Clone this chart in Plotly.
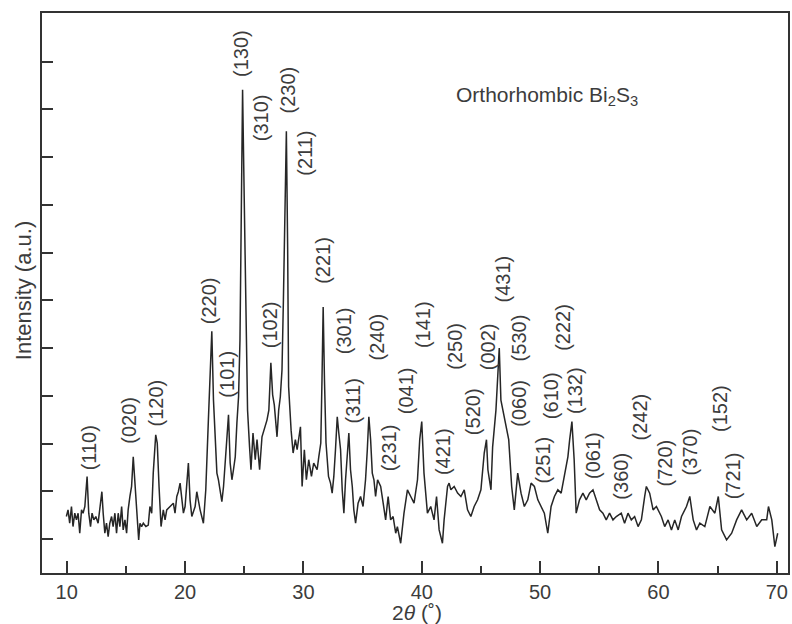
import plotly.graph_objects as go

two_theta = [
    9.97, 10.11, 10.25, 10.40, 10.53, 10.68, 10.82, 10.96, 11.10, 11.25, 11.38, 11.53, 11.72, 11.86,
    12.01, 12.14, 12.29, 12.46, 12.65, 12.80, 12.97, 13.08, 13.22, 13.36, 13.50, 13.64, 13.79, 13.92,
    14.07, 14.21, 14.35, 14.49, 14.64, 14.77, 14.92, 15.06, 15.19, 15.34, 15.48, 15.62, 15.76, 15.91,
    16.08, 16.19, 16.33, 16.47, 16.69, 16.89, 17.03, 17.18, 17.31, 17.52, 17.65, 17.80, 17.97, 18.16,
    18.31, 18.45, 18.73, 19.01, 19.15, 19.30, 19.43, 19.58, 19.86, 20.00, 20.28, 20.42, 20.57, 20.85,
    20.99, 21.27, 21.55, 21.75, 21.97, 22.12, 22.26, 22.40, 22.54, 22.69, 22.82, 22.97, 23.11, 23.25,
    23.39, 23.53, 23.67, 23.81, 23.96, 24.09, 24.24, 24.38, 24.52, 24.64, 24.75, 24.86, 25.00, 25.13,
    25.28, 25.45, 25.57, 25.74, 25.93, 26.08, 26.30, 26.50, 26.69, 26.92, 27.08, 27.25, 27.40, 27.54,
    27.77, 27.91, 28.05, 28.19, 28.31, 28.43, 28.56, 28.67, 28.75, 28.96, 29.13, 29.32, 29.47, 29.75,
    29.89, 30.08, 30.25, 30.45, 30.68, 30.87, 31.16, 31.30, 31.47, 31.57, 31.67, 31.78, 31.91, 32.12,
    32.29, 32.43, 32.57, 32.71, 32.86, 32.99, 33.14, 33.28, 33.42, 33.56, 33.70, 33.84, 33.98, 34.13,
    34.26, 34.41, 34.62, 34.83, 35.04, 35.25, 35.40, 35.53, 35.68, 35.82, 35.96, 36.10, 36.27, 36.53,
    36.74, 36.95, 37.16, 37.37, 37.58, 37.80, 37.94, 38.22, 38.50, 38.79, 39.07, 39.35, 39.64, 39.83,
    40.00, 40.19, 40.48, 40.76, 41.04, 41.25, 41.47, 41.75, 41.89, 42.18, 42.31, 42.46, 42.74, 43.03,
    43.31, 43.59, 43.87, 44.15, 44.43, 44.72, 45.00, 45.28, 45.47, 45.59, 45.85, 45.99, 46.27, 46.44,
    46.55, 46.69, 46.97, 47.12, 47.35, 47.60, 47.82, 48.11, 48.39, 48.67, 48.96, 49.24, 49.52, 49.81,
    50.08, 50.36, 50.65, 50.93, 51.21, 51.50, 51.78, 52.06, 52.35, 52.50, 52.69, 52.88, 53.05, 53.33,
    53.62, 53.90, 54.18, 54.47, 54.75, 55.03, 55.31, 55.59, 55.87, 56.16, 56.44, 56.86, 57.14, 57.43,
    57.71, 57.99, 58.28, 58.56, 58.84, 58.98, 59.26, 59.55, 59.83, 60.25, 60.53, 60.82, 61.10, 61.38,
    61.67, 61.95, 62.37, 62.65, 62.94, 63.22, 63.50, 63.92, 64.35, 64.77, 65.06, 65.34, 65.76, 66.19,
    66.61, 67.03, 67.46, 67.88, 68.31, 68.73, 69.15, 69.30, 69.58, 69.84, 70.08,
]
intensity = [
    147, 161, 133, 168, 126, 154, 140, 154, 112, 161, 154, 168, 231, 154,
    126, 154, 140, 147, 133, 161, 199, 154, 112, 133, 105, 133, 147, 126,
    154, 112, 154, 126, 168, 119, 140, 112, 161, 189, 210, 272, 217, 168,
    98, 133, 126, 133, 126, 129, 168, 154, 238, 318, 301, 210, 126, 161,
    140, 161, 168, 175, 154, 189, 199, 217, 154, 168, 259, 182, 147, 168,
    199, 161, 133, 203, 349, 433, 535, 391, 308, 238, 224, 203, 178, 210,
    259, 308, 360, 259, 224, 245, 272, 343, 398, 517, 811, 1041, 811, 559,
    370, 293, 245, 322, 266, 308, 245, 314, 328, 349, 370, 469, 402, 381,
    314, 370, 398, 454, 601, 811, 954, 706, 419, 328, 280, 308, 287, 335,
    210, 287, 224, 266, 231, 259, 245, 272, 301, 433, 586, 433, 301, 231,
    217, 196, 231, 287, 356, 322, 287, 203, 154, 224, 287, 322, 245, 210,
    161, 133, 175, 189, 168, 224, 287, 356, 308, 238, 224, 189, 224, 210,
    175, 140, 189, 140, 147, 112, 126, 91, 154, 203, 189, 175, 224, 308,
    346, 238, 154, 168, 140, 189, 119, 91, 140, 210, 217, 203, 210, 196,
    189, 203, 161, 147, 168, 182, 203, 280, 308, 245, 203, 293, 370, 454,
    500, 391, 356, 335, 308, 210, 161, 238, 196, 168, 182, 217, 210, 182,
    168, 154, 112, 168, 189, 203, 196, 231, 272, 308, 346, 266, 154, 182,
    196, 182, 196, 203, 182, 161, 154, 140, 154, 140, 147, 154, 133, 154,
    140, 147, 126, 140, 189, 210, 196, 161, 168, 147, 126, 140, 119, 140,
    119, 147, 168, 189, 140, 119, 133, 126, 168, 154, 189, 119, 98, 112,
    140, 161, 140, 154, 126, 140, 140, 168, 140, 84, 112,
]

# Miller-index labels and where they sit (2-theta, intensity)
hkl_labels = ["(110)", "(020)", "(120)", "(220)", "(101)", "(130)", "(310)", "(230)", "(211)",
              "(102)", "(221)", "(301)", "(311)", "(240)", "(231)", "(041)", "(141)", "(421)",
              "(250)", "(520)", "(002)", "(431)", "(530)", "(060)", "(251)", "(610)", "(222)",
              "(132)", "(061)", "(360)", "(242)", "(720)", "(370)", "(152)", "(721)"]
hkl_x = [11.89, 15.19, 17.54, 21.97, 23.53, 24.72, 26.44, 28.67, 30.17,
         27.14, 31.67, 33.42, 34.18, 36.25, 37.23, 38.64, 40.06, 41.75,
         42.74, 44.30, 45.57, 46.84, 48.25, 48.25, 50.23, 50.87, 51.92,
         52.91, 54.47, 56.81, 58.42, 60.59, 62.65, 65.19, 66.33]
hkl_y = [290, 348, 386, 599, 446, 1118, 982, 1041, 908,
         549, 683, 537, 390, 523, 292, 411, 549, 283,
         503, 367, 503, 645, 521, 384, 266, 400, 544,
         411, 276, 232, 356, 259, 283, 374, 232]

x_ticks = [10, 20, 30, 40, 50, 60, 70]
y_ticks = [100, 200, 300, 400, 500, 600, 700, 800, 900, 1000, 1100]

FONT = "Arial, 'Liberation Sans', sans-serif"
TEXT_COLOR = "#3c3c3c"

fig = go.Figure()
fig.add_trace(go.Scatter(
    x=two_theta, y=intensity, mode="lines",
    line=dict(color="#262626", width=1.5),
    showlegend=False, hoverinfo="skip",
))

for lab, lx, ly in zip(hkl_labels, hkl_x, hkl_y):
    fig.add_annotation(x=lx, y=ly, xref="x", yref="y", text=lab, textangle=-90,
                       showarrow=False, font=dict(family=FONT, size=20, color=TEXT_COLOR))

fig.add_annotation(x=42.71, y=1028, xref="x", yref="y", xanchor="left", yanchor="middle",
                   text="Orthorhombic Bi<sub>2</sub>S<sub>3</sub>", showarrow=False,
                   font=dict(family=FONT, size=21, color=TEXT_COLOR))

# axis titles
fig.add_annotation(x=0.503, y=-0.0714, xref="paper", yref="paper", text="2<i>θ</i> (˚)",
                   showarrow=False, xanchor="center", yanchor="middle",
                   font=dict(family=FONT, size=21, color=TEXT_COLOR))
fig.add_annotation(x=-0.0255, y=0.505, xref="paper", yref="paper", text="Intensity (a.u.)",
                   textangle=-90, showarrow=False, xanchor="center", yanchor="middle",
                   font=dict(family=FONT, size=22, color=TEXT_COLOR))

fig.update_layout(
    width=792, height=624,
    margin=dict(l=42, r=4, t=13, b=51, autoexpand=False),
    paper_bgcolor="white", plot_bgcolor="white",
    font=dict(family=FONT, size=20, color=TEXT_COLOR),
)
fig.update_xaxes(
    range=[7.91, 70.95], tickvals=x_ticks, ticktext=[str(v) for v in x_ticks],
    ticks="inside", ticklen=12, tickwidth=2, tickcolor="#333",
    minor=dict(ticks="inside", ticklen=7, tickwidth=2, tickcolor="#333", dtick=5, tick0=5, showgrid=False),
    showline=True, linewidth=2, linecolor="#333", mirror=True,
    showgrid=False, zeroline=False, automargin=False,
    tickfont=dict(family=FONT, size=20, color=TEXT_COLOR),
)
fig.update_yaxes(
    range=[28.7, 1201.9], tickvals=y_ticks, showticklabels=False,
    ticks="inside", ticklen=11, tickwidth=2, tickcolor="#333",
    showline=True, linewidth=2, linecolor="#333", mirror=True,
    showgrid=False, zeroline=False, automargin=False,
)

# remove the default 8px page margin so the 792x624 figure fills the window exactly
fig.write_html("out.html",
               config=dict(displayModeBar=False),
               post_script="document.body.style.margin='0';document.body.style.overflow='hidden';")
